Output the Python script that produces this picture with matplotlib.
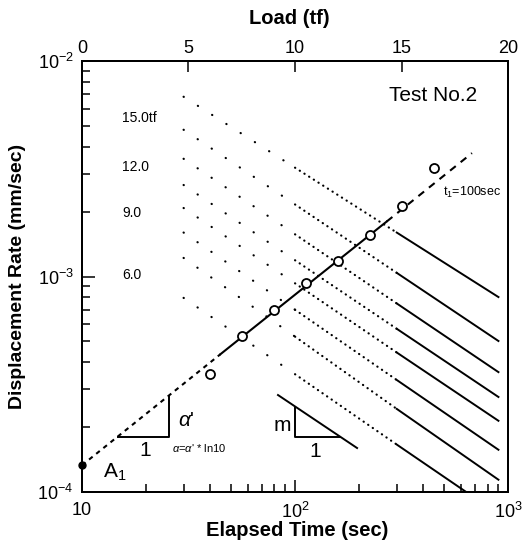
import matplotlib.pyplot as plt
from matplotlib.ticker import NullLocator

plt.rcParams['font.family'] = ['Liberation Sans', 'DejaVu Sans']
plt.rcParams['mathtext.fontset'] = 'custom'
plt.rcParams['mathtext.rm'] = 'Liberation Sans'
plt.rcParams['mathtext.it'] = 'Liberation Sans:italic'

# rate at t1 = 100 sec for each load step (plotted on the load axis)
LOAD = [6.0, 7.5, 9.0, 10.5, 12.0, 13.5, 15.0, 16.5]
RATE_100S = [3.53e-4, 5.30e-4, 6.99e-4, 9.33e-4, 1.18e-3, 1.56e-3, 2.12e-3, 3.19e-3]

# creep curves, one per load step, read at these elapsed times
CREEP_T = [30, 100, 300, 900]
CREEP_RATE = [
    [7.96e-4, 3.52e-4, 1.66e-4, 7.9e-5],    # 6.0 tf
    [1.22e-3, 5.26e-4, 2.43e-4, 1.14e-4],   # 7.5
    [1.60e-3, 7.01e-4, 3.31e-4, 1.57e-4],   # 9.0
    [2.08e-3, 9.30e-4, 4.44e-4, 2.14e-4],   # 10.5
    [2.66e-3, 1.19e-3, 5.72e-4, 2.76e-4],   # 12.0
    [3.52e-3, 1.57e-3, 7.50e-4, 3.60e-4],   # 13.5
    [4.80e-3, 2.16e-3, 1.04e-3, 5.02e-4],   # 15.0
    [6.83e-3, 3.20e-3, 1.60e-3, 8.03e-4],   # 16.5
]

# fitted line through A1 (dashed / solid / dashed)
TREND_LOAD = [0.0, 6.5, 14.3, 18.3]
TREND_RATE = [1.33e-4, 4.36e-4, 1.80e-3, 3.74e-3]
A1_RATE = 1.33e-4

fig = plt.figure(figsize=(5.25, 5.42), dpi=100)
ax = fig.add_axes([0.156, 0.0923, 0.812, 0.795])
ax.set_xscale('log')
ax.set_yscale('log')
ax.set_xlim(10, 1000)
ax.set_ylim(1e-4, 1e-2)

for rates in CREEP_RATE:
    ax.plot(CREEP_T[:2], rates[:2], color='k', lw=1.6,
            linestyle=(0, (0.1, 7.5)), dash_capstyle='round')
    ax.plot(CREEP_T[1:3], rates[1:3], color='k', lw=1.6,
            linestyle=(0, (0.1, 2.4)), dash_capstyle='round')
    ax.plot(CREEP_T[2:], rates[2:], color='k', lw=1.4)

ax2 = ax.twiny()
ax2.set_xlim(0, 20)
ax2.plot(TREND_LOAD[:2], TREND_RATE[:2], color='k', lw=1.5, linestyle=(0, (2.2, 2.2)))
ax2.plot(TREND_LOAD[1:3], TREND_RATE[1:3], color='k', lw=1.5)
ax2.plot(TREND_LOAD[2:], TREND_RATE[2:], color='k', lw=1.5, linestyle=(0, (3.5, 3.0)))
ax2.plot(LOAD, RATE_100S, 'o', mfc='white', mec='k', ms=6.5, mew=1.3)
ax2.plot([0], [A1_RATE], 'o', color='k', ms=5, clip_on=False, zorder=5)

ax.set_xticks([10, 100, 1000])
ax.set_xticklabels(['10', '$10^2$', '$10^3$'])
ax.set_yticks([1e-4, 1e-3, 1e-2])
ax.set_yticklabels(['$10^{-4}$', '$10^{-3}$', '$10^{-2}$'])
ax.tick_params(which='both', direction='in', top=False, right=False, labelsize=13, width=1.1)
ax.tick_params(which='major', length=9, pad=7)
ax.tick_params(which='minor', length=6)
ax.tick_params(axis='y', pad=6)

ax2.set_xticks([0, 5, 10, 15, 20])
ax2.xaxis.set_minor_locator(NullLocator())
ax2.tick_params(direction='in', length=8, width=1.1, labelsize=13, pad=3)

for a in (ax, ax2):
    for s in a.spines.values():
        s.set_linewidth(1.4)

fig.text(0.552, 0.965, 'Load (tf)', ha='center', va='center', fontsize=14.5, fontweight='bold')
fig.text(0.566, 0.022, 'Elapsed Time (sec)', ha='center', va='center', fontsize=14.5,
         fontweight='bold')
fig.text(0.033, 0.49, 'Displacement Rate (mm/sec)', ha='center', va='center',
         rotation=90, fontsize=14, fontweight='bold')

T = ax.transAxes
ax.text(0.824, 0.921, 'Test No.2', ha='center', va='center', fontsize=15, transform=T)
for lab, fy in zip(['15.0tf', '12.0', '9.0', '6.0'], [0.868, 0.754, 0.647, 0.503]):
    ax.text(0.094, fy, lab, ha='left', va='center', fontsize=10, transform=T)
ax.text(0.847, 0.696, 't$_1$=100sec', ha='left', va='center', fontsize=9, transform=T)
ax.text(0.050, 0.046, 'A$_1$', ha='left', va='center', fontsize=15, transform=T)

# slope triangle alpha'
ax.plot([0.0845, 0.204, 0.204], [0.1276, 0.1276, 0.2227], color='k', lw=1.4, transform=T)
ax.text(0.148, 0.097, '1', ha='center', va='center', fontsize=15, transform=T)
ax.text(0.225, 0.167, "$\\alpha$'", ha='left', va='center', fontsize=15, transform=T)
ax.text(0.212, 0.101, "$\\alpha$=$\\alpha$' * ln10", ha='left', va='center', fontsize=8, transform=T)

# slope triangle m
ax.plot([0.460, 0.6455], [0.225, 0.102], color='k', lw=1.4, transform=T)
ax.plot([0.5, 0.5, 0.6056], [0.197, 0.1276, 0.1276], color='k', lw=1.4, transform=T)
ax.text(0.469, 0.155, 'm', ha='center', va='center', fontsize=15, transform=T)
ax.text(0.547, 0.093, '1', ha='center', va='center', fontsize=15, transform=T)

fig.savefig('out.png', dpi=100)
